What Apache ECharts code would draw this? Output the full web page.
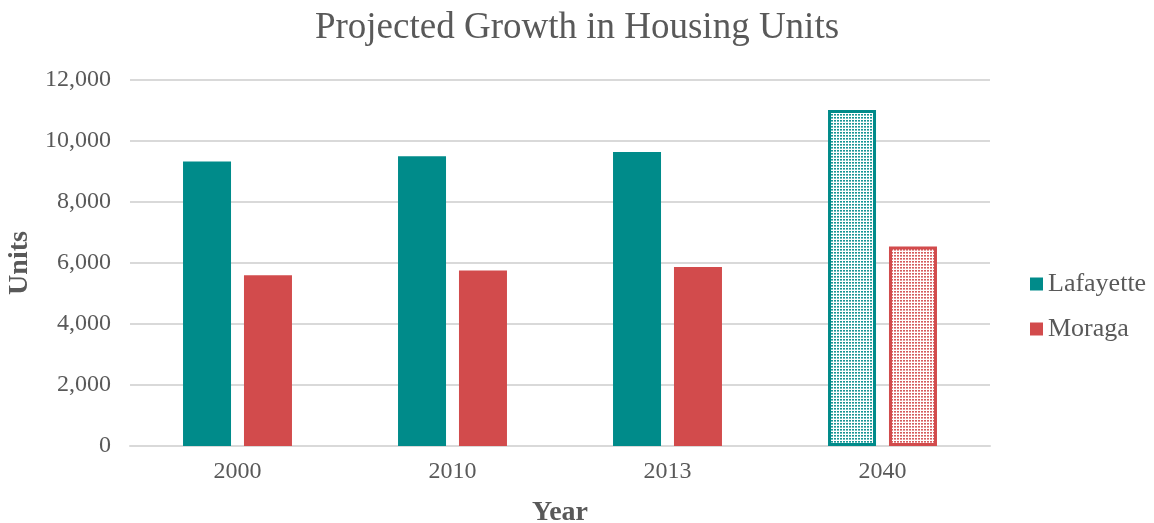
<!DOCTYPE html>
<html>
<head>
<meta charset="utf-8">
<script src="https://cdn.jsdelivr.net/npm/echarts@6/dist/echarts.min.js"></script>
<style>html,body{margin:0;padding:0;background:#fff;}#c{width:1154px;height:523px;}</style>
</head>
<body>
<div id="c"></div>
<script>
const categories = ['2000', '2010', '2013', '2040'];
const lafayette = [9330, 9500, 9640, 11020];
const moraga = [5600, 5755, 5870, 6540];
const projectedIndex = 3;

const TEAL = '#008B8A';
const RED = '#D24B4C';
const TEXT = '#595959';
const FONT = '"Liberation Serif", "Times New Roman", serif';

function makePattern(color) {
  const c = document.createElement('canvas');
  c.width = 3; c.height = 3;
  const g = c.getContext('2d');
  g.fillStyle = '#ffffff';
  g.fillRect(0, 0, 3, 3);
  g.fillStyle = color;
  g.globalAlpha = 0.9;
  g.fillRect(0, 0, 2, 1);
  g.globalAlpha = 0.55;
  g.fillRect(0, 1, 2, 1);
  return c;
}

function buildData(values, color) {
  return values.map((v, i) => {
    if (i === projectedIndex) {
      return {
        value: v,
        itemStyle: {
          color: { image: makePattern(color), repeat: 'repeat' },
          borderColor: color,
          borderWidth: 3
        }
      };
    }
    return v;
  });
}

const chart = echarts.init(document.getElementById('c'));
chart.setOption({
  animation: false,
  backgroundColor: '#ffffff',
  title: {
    text: 'Projected Growth in Housing Units',
    left: 'center',
    top: 5,
    textStyle: { fontFamily: FONT, fontSize: 37, fontWeight: 'normal', color: TEXT }
  },
  legend: {
    orient: 'vertical',
    left: 1025,
    top: 266,
    itemWidth: 13,
    itemHeight: 13,
    itemGap: 19,
    icon: 'rect',
    textStyle: { fontFamily: FONT, fontSize: 26, color: TEXT },
    data: ['Lafayette', 'Moraga']
  },
  grid: { left: 130, right: 164, top: 80, bottom: 77, outerBoundsMode: 'none', containLabel: false },
  xAxis: {
    type: 'category',
    data: categories,
    name: 'Year',
    nameLocation: 'middle',
    nameGap: 53,
    nameTextStyle: { fontFamily: FONT, fontSize: 28, fontWeight: 'bold', color: TEXT },
    axisLine: { lineStyle: { color: '#D9D9D9', width: 2 } },
    axisTick: { show: false },
    axisLabel: { fontFamily: FONT, fontSize: 24, color: TEXT, margin: 14 }
  },
  yAxis: {
    type: 'value',
    min: 0,
    max: 12000,
    interval: 2000,
    name: 'Units',
    nameLocation: 'middle',
    nameGap: 87,
    nameTextStyle: { fontFamily: FONT, fontSize: 28, fontWeight: 'bold', color: TEXT },
    axisLine: { show: false },
    axisTick: { show: false },
    splitLine: { lineStyle: { color: '#D9D9D9', width: 2 } },
    axisLabel: {
      fontFamily: FONT, fontSize: 24, color: TEXT, margin: 19,
      formatter: v => v.toLocaleString('en-US')
    }
  },
  series: [
    {
      name: 'Lafayette', type: 'bar', barWidth: 48, barGap: '27%',
      itemStyle: { color: TEAL },
      data: buildData(lafayette, TEAL)
    },
    {
      name: 'Moraga', type: 'bar', barWidth: 48,
      itemStyle: { color: RED },
      data: buildData(moraga, RED)
    }
  ]
});
</script>
</body>
</html>
